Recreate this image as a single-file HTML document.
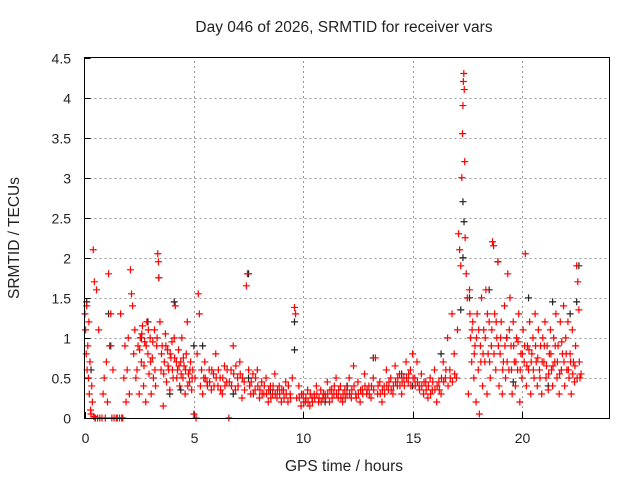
<!DOCTYPE html>
<html><head><meta charset="utf-8"><style>
html,body{margin:0;padding:0;background:#fff;}
svg{display:block;font-family:"Liberation Sans",sans-serif;}
</style></head><body>
<svg id="chart" width="640" height="480" viewBox="0 0 640 480">
<rect width="640" height="480" fill="#fff"/>
<text x="344" y="32" font-size="15.5" text-anchor="middle" fill="#222">Day 046 of 2026, SRMTID for receiver vars</text>
<text x="344" y="471" font-size="15.5" text-anchor="middle" fill="#222">GPS time / hours</text>
<text transform="translate(19,238) rotate(-90)" font-size="15.5" text-anchor="middle" fill="#222">SRMTID / TECUs</text>
<g id="grid"></g>
<g id="ticks"></g>
<g id="marks"></g>
<rect x="84.5" y="57.5" width="525" height="361" fill="none" stroke="#000" stroke-width="1"/>
</svg>
<script>
const xTicks=[0,5,10,15,20];
const yTicks=[0,0.5,1,1.5,2,2.5,3,3.5,4,4.5];
const yTickLabels=["0","0.5","1","1.5","2","2.5","3","3.5","4","4.5"];
const blackPoints=[[0.1,1.45],[0.3,0.6],[1.1,1.3],[1.2,0.9],[2.6,1.0],[2.9,1.2],[3.4,1.75],[4.1,1.45],[4.4,0.35],[5.4,0.9],[6.8,0.3],[7.5,1.8],[7.5,0.5],[9.6,1.2],[9.6,0.85],[12.0,0.4],[13.2,0.75],[14.5,0.55],[16.3,0.8],[17.3,2.7],[17.35,2.45],[17.3,2.0],[17.6,1.5],[17.2,1.35],[18.5,1.6],[18.9,1.95],[19.3,1.0],[19.6,0.45],[20.3,1.5],[21.2,0.4],[21.4,1.45],[22.2,1.3],[22.5,1.45],[22.6,1.9],[8.5,0.35],[11.0,0.2],[15.0,0.4],[3.9,0.3],[5.0,0.9]];
const redPoints=[[0.02,1.3],[0.05,1.1],[0.08,0.8],[0.1,1.4],[0.12,0.6],[0.15,0.9],[0.18,0.5],[0.2,1.2],[0.22,0.3],[0.25,0.7],[0.28,0.1],[0.3,0.05],[0.33,0.4],[0.36,0.2],[0.4,2.1],[0.42,0.02],[0.45,1.7],[0.48,0.0],[0.5,0.0],[0.55,1.6],[0.6,0.0],[0.65,1.1],[0.7,0.0],[0.8,0.0],[0.85,0.3],[0.9,0.5],[0.95,0.0],[1.0,0.7],[1.05,0.2],[1.1,1.8],[1.15,0.9],[1.2,1.3],[1.25,0.0],[1.3,0.6],[1.35,0.0],[1.45,0.0],[1.5,0.0],[1.6,0.0],[1.65,1.3],[1.7,0.0],[1.75,0.0],[1.8,0.5],[1.85,0.9],[1.9,0.2],[1.95,0.6],[2.0,1.0],[2.05,0.3],[2.1,1.85],[2.15,1.55],[2.2,1.4],[2.25,0.8],[2.3,1.1],[2.35,0.5],[2.4,0.6],[2.45,0.9],[2.5,0.3],[2.55,1.0],[2.6,0.7],[2.65,1.15],[2.7,0.4],[2.75,0.95],[2.8,0.2],[2.85,1.2],[2.9,0.8],[2.95,0.55],[3.0,1.0],[3.05,0.3],[3.1,0.75],[3.15,0.5],[3.2,1.1],[3.25,0.4],[3.3,0.9],[3.35,2.05],[3.38,1.95],[3.4,1.75],[3.45,1.2],[3.5,0.6],[3.55,0.9],[3.6,0.15],[3.65,0.7],[3.7,1.05],[3.75,0.45],[3.8,0.85],[3.85,0.6],[3.9,0.35],[3.95,0.75],[4.0,0.95],[4.05,0.5],[4.1,1.0],[4.15,1.4],[4.2,0.7],[4.25,0.6],[4.3,0.85],[4.35,0.4],[4.4,0.7],[4.45,1.0],[4.5,0.5],[4.55,0.65],[4.6,0.3],[4.65,0.8],[4.7,1.2],[4.75,0.55],[4.8,0.45],[4.85,0.7],[4.9,0.35],[4.95,0.6],[5.0,0.05],[5.05,0.5],[5.1,0.0],[5.15,0.8],[5.2,1.55],[5.25,1.3],[5.3,0.4],[5.35,0.6],[5.4,0.3],[5.45,0.5],[5.5,0.7],[5.6,0.45],[5.7,0.6],[5.8,0.35],[5.9,0.55],[6.0,0.8],[6.1,0.4],[6.2,0.5],[6.3,0.3],[6.4,0.65],[6.5,0.45],[6.6,0.0],[6.7,0.6],[6.8,0.9],[6.9,0.35],[7.0,0.5],[7.1,0.7],[7.2,0.25],[7.3,0.45],[7.4,1.65],[7.45,1.8],[7.5,0.6],[7.55,0.4],[7.6,0.3],[7.7,0.55],[7.8,0.35],[7.9,0.6],[8.0,0.25],[8.1,0.45],[8.2,0.3],[8.3,0.5],[8.4,0.2],[8.5,0.4],[8.6,0.3],[8.7,0.55],[8.8,0.25],[8.9,0.4],[9.0,0.2],[9.1,0.35],[9.2,0.45],[9.3,0.2],[9.4,0.3],[9.5,0.5],[9.6,1.38],[9.65,1.3],[9.7,0.25],[9.8,0.4],[9.9,0.15],[10.0,0.3],[10.1,0.2],[10.2,0.35],[10.3,0.15],[10.4,0.25],[10.5,0.3],[10.6,0.4],[10.7,0.2],[10.8,0.35],[10.9,0.25],[11.0,0.3],[11.1,0.45],[11.2,0.2],[11.3,0.35],[11.4,0.3],[11.5,0.5],[11.6,0.25],[11.7,0.4],[11.8,0.2],[11.9,0.35],[12.0,0.3],[12.1,0.5],[12.2,0.25],[12.3,0.65],[12.4,0.3],[12.5,0.45],[12.6,0.2],[12.7,0.35],[12.8,0.55],[12.9,0.3],[13.0,0.4],[13.1,0.25],[13.2,0.5],[13.3,0.75],[13.4,0.3],[13.5,0.45],[13.6,0.2],[13.7,0.4],[13.8,0.6],[13.9,0.35],[14.0,0.5],[14.1,0.3],[14.2,0.65],[14.3,0.4],[14.4,0.55],[14.5,0.3],[14.6,0.5],[14.7,0.7],[14.8,0.45],[14.9,0.6],[15.0,0.8],[15.1,0.5],[15.2,0.7],[15.3,0.4],[15.4,0.55],[15.5,0.3],[15.6,0.45],[15.7,0.25],[15.8,0.5],[15.9,0.35],[16.0,0.6],[16.1,0.2],[16.2,0.45],[16.3,0.3],[16.4,0.7],[16.5,0.5],[16.6,1.0],[16.7,0.6],[16.8,1.3],[16.9,0.8],[17.0,0.5],[17.05,1.1],[17.1,2.3],[17.15,2.1],[17.2,1.9],[17.25,3.0],[17.28,3.55],[17.3,3.9],[17.32,4.2],[17.34,4.3],[17.36,4.1],[17.38,3.2],[17.4,2.25],[17.45,1.8],[17.5,1.5],[17.55,0.3],[17.6,1.6],[17.65,1.0],[17.7,0.7],[17.75,1.2],[17.8,0.5],[17.85,0.9],[17.9,0.2],[17.95,1.3],[18.0,0.6],[18.05,0.05],[18.1,0.9],[18.15,1.5],[18.2,0.4],[18.25,1.1],[18.3,0.7],[18.35,1.6],[18.4,0.3],[18.45,0.8],[18.5,1.2],[18.55,0.5],[18.6,0.9],[18.65,2.2],[18.7,2.15],[18.75,1.3],[18.8,0.6],[18.85,1.0],[18.9,1.95],[18.95,0.4],[19.0,0.8],[19.05,1.2],[19.1,0.3],[19.15,0.7],[19.2,1.4],[19.25,0.5],[19.3,1.0],[19.35,1.8],[19.4,0.6],[19.45,1.5],[19.5,0.9],[19.55,0.3],[19.6,1.2],[19.65,0.7],[19.7,0.4],[19.75,1.0],[19.8,0.6],[19.85,1.3],[19.9,0.2],[19.95,0.8],[20.0,0.5],[20.05,1.1],[20.1,0.7],[20.15,2.05],[20.2,0.4],[20.25,0.9],[20.3,0.6],[20.35,1.2],[20.4,0.3],[20.45,0.8],[20.5,1.0],[20.55,0.5],[20.6,1.3],[20.65,0.7],[20.7,0.4],[20.75,1.1],[20.8,0.6],[20.85,0.9],[20.9,0.3],[20.95,1.0],[21.0,0.7],[21.05,1.2],[21.1,0.5],[21.15,0.9],[21.2,0.35],[21.25,0.8],[21.3,1.1],[21.35,0.6],[21.4,0.4],[21.45,1.0],[21.5,0.7],[21.55,1.3],[21.6,0.5],[21.65,0.9],[21.7,0.3],[21.75,1.2],[21.8,0.6],[21.85,0.8],[21.9,1.4],[21.95,0.4],[22.0,1.0],[22.05,0.6],[22.1,1.2],[22.15,0.5],[22.2,0.8],[22.25,0.3],[22.3,1.1],[22.35,0.7],[22.4,0.45],[22.45,0.9],[22.5,1.9],[22.55,1.7],[22.6,1.35],[22.65,0.5],[22.7,0.55]];
const redPointsExtra=[[2.52,0.85],[2.62,1.05],[2.72,0.65],[2.82,0.9],[2.92,1.1],[3.02,0.7],[3.12,0.95],[3.22,0.6],[3.32,1.0],[3.52,0.8],[3.62,0.55],[3.72,0.9],[3.82,0.65],[3.92,0.8],[4.02,0.6],[4.12,0.75],[4.22,0.5],[4.32,0.65],[4.42,0.55],[4.52,0.75],[4.62,0.6],[4.72,0.4],[4.82,0.6],[4.92,0.5],[5.52,0.5],[5.62,0.4],[5.72,0.45],[5.82,0.6],[5.92,0.4],[6.02,0.5],[6.12,0.6],[6.22,0.35],[6.32,0.5],[6.42,0.4],[6.52,0.6],[6.62,0.45],[6.72,0.4],[6.82,0.55],[6.92,0.65],[7.02,0.4],[7.12,0.55],[7.22,0.5],[7.32,0.35],[7.62,0.45],[7.72,0.3],[7.82,0.5],[7.92,0.4],[8.02,0.35],[8.12,0.3],[8.22,0.4],[8.32,0.3],[8.42,0.35],[8.52,0.25],[8.62,0.4],[8.72,0.3],[8.82,0.35],[8.92,0.3],[9.02,0.35],[9.12,0.25],[9.22,0.3],[9.32,0.4],[9.42,0.25],[9.82,0.25],[9.92,0.3],[10.02,0.2],[10.12,0.25],[10.22,0.2],[10.32,0.3],[10.42,0.2],[10.52,0.25],[10.62,0.3],[10.72,0.25],[10.82,0.2],[10.92,0.3],[11.02,0.25],[11.12,0.3],[11.22,0.35],[11.32,0.25],[11.42,0.4],[11.52,0.3],[11.62,0.35],[11.72,0.25],[11.82,0.3],[11.92,0.25],[12.02,0.4],[12.12,0.3],[12.22,0.35],[12.32,0.4],[12.42,0.25],[12.52,0.3],[12.62,0.35],[12.72,0.3],[12.82,0.4],[12.92,0.35],[13.02,0.3],[13.12,0.4],[13.22,0.35],[13.42,0.4],[13.52,0.3],[13.62,0.35],[13.72,0.3],[13.82,0.4],[13.92,0.45],[14.02,0.35],[14.12,0.4],[14.22,0.45],[14.32,0.5],[14.42,0.4],[14.52,0.45],[14.62,0.4],[14.72,0.5],[14.82,0.55],[14.92,0.4],[15.02,0.5],[15.12,0.4],[15.22,0.45],[15.32,0.35],[15.42,0.4],[15.52,0.45],[15.62,0.35],[15.72,0.4],[15.82,0.3],[15.92,0.45],[16.02,0.35],[16.12,0.4],[16.22,0.35],[16.32,0.5],[16.42,0.45],[16.52,0.6],[16.62,0.4],[16.72,0.5],[16.82,0.45],[16.92,0.55],[17.62,1.3],[17.72,1.1],[17.82,0.8],[17.92,1.0],[18.02,1.1],[18.12,0.7],[18.22,0.8],[18.32,1.0],[18.42,1.3],[18.52,0.7],[18.62,1.1],[18.72,0.8],[18.82,1.2],[18.92,0.9],[19.02,1.0],[19.12,0.6],[19.22,0.9],[19.32,0.7],[19.42,1.1],[19.52,0.6],[19.62,0.9],[19.72,0.7],[19.82,0.95],[19.92,0.6],[20.02,0.8],[20.12,0.9],[20.22,0.65],[20.32,0.85],[20.42,0.7],[20.52,0.6],[20.62,0.9],[20.72,0.75],[20.82,0.5],[20.92,0.7],[21.02,0.9],[21.12,0.65],[21.22,0.55],[21.32,0.8],[21.42,0.65],[21.52,0.9],[21.62,0.7],[21.72,0.55],[21.82,0.95],[21.92,0.7],[22.02,0.8],[22.12,0.6],[22.22,0.7],[22.32,0.55],[22.42,0.65],[22.52,0.5],[22.62,0.7]];

const X0=84.5,X1=609.5,Y0=418,Y1=57.5,XMAX=24,YMAX=4.5;
function sx(t){return X0+(X1-X0)*t/XMAX;}
function sy(v){return Y0-(Y0-Y1)*v/YMAX;}
const NS="http://www.w3.org/2000/svg";
const grid=document.getElementById('grid'),ticks=document.getElementById('ticks'),marks=document.getElementById('marks');
function mk(tag,attrs,parent){const e=document.createElementNS(NS,tag);for(const k in attrs)e.setAttribute(k,attrs[k]);parent.appendChild(e);return e;}
yTicks.forEach((v,i)=>{
  const y=Math.round(sy(v))+0.5;
  if(v>0&&v<YMAX){const g=mk('line',{x1:X0,x2:X1,y1:y,y2:y,stroke:'#999','stroke-dasharray':'2,3','stroke-width':1},grid);
    
    }
  const tk=mk('line',{x1:X0,x2:X0+6,y1:y,y2:y,stroke:'#000'},ticks);
  
  
  const tx=mk('text',{x:71,y:y+5,'font-size':14,'text-anchor':'end',fill:'#222'},ticks);
  tx.textContent=yTickLabels[i];
  
  
});
xTicks.forEach(t=>{
  const x=Math.round(sx(t))+0.5;
  if(t>0){const g=mk('line',{x1:x,x2:x,y1:Y0,y2:Y1,stroke:'#999','stroke-dasharray':'2,3','stroke-width':1},grid);
    
    }
  const tk=mk('line',{x1:x,x2:x,y1:Y0,y2:Y0-6,stroke:'#000'},ticks);
  
  
  const tx=mk('text',{x:x,y:443,'font-size':14,'text-anchor':'middle',fill:'#222'},ticks);
  tx.textContent=String(t);
  
  
});
function plus(p,color,name){
  const x=sx(p[0]),y=sy(p[1]);
  const e=mk('path',{d:`M${x-3.5},${y}H${x+3.5}M${x},${y-3.5}V${y+3.5}`,stroke:color,'stroke-width':1.2,fill:'none'},marks);
  
  
}
blackPoints.forEach(p=>plus(p,'#222','black-point'));
redPoints.forEach(p=>plus(p,'#ff0000','red-point'));
redPointsExtra.forEach(p=>plus(p,'#ff0000','red-point'));
</script>
</body></html>
